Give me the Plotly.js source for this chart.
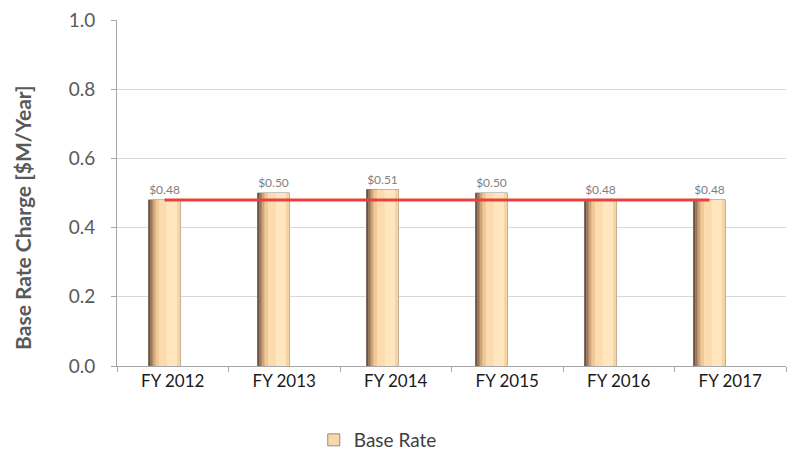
<!DOCTYPE html>
<html>
<head>
<meta charset="utf-8">
<script src="https://cdn.plot.ly/plotly-3.0.1.min.js"></script>
<style>html,body{margin:0;padding:0;background:#fff;}#chart{width:787px;height:455px;}</style>
</head>
<body>
<div id="chart"></div>
<script>
const categories = ["FY 2012", "FY 2013", "FY 2014", "FY 2015", "FY 2016", "FY 2017"];
const baseRate = [0.48, 0.50, 0.51, 0.50, 0.48, 0.48];
const barLabels = ["$0.48", "$0.50", "$0.51", "$0.50", "$0.48", "$0.48"];
const redLine = [0.48, 0.48, 0.48, 0.48, 0.48, 0.48];
const yTicks = [0.0, 0.2, 0.4, 0.6, 0.8, 1.0];
const yTickText = ["0.0", "0.2", "0.4", "0.6", "0.8", "1.0"];
const yTitle = "Base Rate Charge [$M/Year]";

const FONT = "Lato, 'Open Sans', sans-serif";
const barWidth = 0.294, barOffset = -0.147;

// shading strips to mimic the cylinder gradient
const strips = [
  {dx: 0.000, w: 0.020, c: "#6e5240"},
  {dx: 0.020, w: 0.020, c: "#9c7658"},
  {dx: 0.040, w: 0.026, c: "#cfa47a"},
  {dx: 0.066, w: 0.030, c: "#f0c896"},
  {dx: 0.096, w: 0.070, c: "#fcdcaf"},
  {dx: 0.166, w: 0.098, c: "#ffe6bf"},
  {dx: 0.264, w: 0.030, c: "#f6d3a3"}
];

const traces = [];
traces.push({
  type: "bar", x: categories, y: baseRate, name: "Base Rate", xaxis: "x2",
  offset: barOffset, width: barWidth,
  marker: {color: "#fad7a6", line: {color: "#8c8c8c", width: 1}},
  text: barLabels, textposition: "outside", cliponaxis: false,
  textfont: {family: FONT, size: 12, color: "#7f7f7f"},
  hoverinfo: "skip", showlegend: true
});
strips.forEach(s => {
  traces.push({
    type: "bar", x: categories, y: baseRate, xaxis: "x2",
    offset: barOffset + s.dx, width: s.w,
    marker: {color: s.c, line: {width: 0}},
    hoverinfo: "skip", showlegend: false
  });
});
traces.push({
  type: "scatter", mode: "lines",
  x: categories, y: redLine,
  xaxis: "x2", line: {color: "#e8423c", width: 3},
  hoverinfo: "skip", showlegend: false
});
// invisible trace to carry the category tick labels on the main x axis
traces.push({
  type: "scatter", mode: "markers", x: categories, y: baseRate,
  marker: {opacity: 0}, hoverinfo: "skip", showlegend: false
});

const layout = {
  width: 787, height: 455,
  margin: {l: 117, r: 1, t: 20, b: 89},
  paper_bgcolor: "#ffffff", plot_bgcolor: "#ffffff",
  barmode: "overlay",
  showlegend: true,
  legend: {
    orientation: "h", xref: "container", yref: "container",
    x: 0.48, xanchor: "center", y: 0.033, yanchor: "middle",
    font: {family: FONT, size: 19, color: "#404040"}
  },
  xaxis: {
    type: "category", range: [-0.5, 5.5],
    showgrid: false, zeroline: false,
    showline: true, linecolor: "#a6a6a6", linewidth: 1,
    ticks: "outside", tickson: "boundaries", ticklen: 5, tickcolor: "#a6a6a6",
    tickfont: {family: FONT, size: 17, color: "#1a1a1a"}
  },
  xaxis2: {
    type: "category", overlaying: "x", range: [-0.436, 5.702], visible: false
  },
  yaxis: {
    range: [0, 1], tickvals: yTicks, ticktext: yTickText,
    showgrid: true, gridcolor: "#d9d9d9", gridwidth: 1,
    zeroline: false, showline: true, linecolor: "#a6a6a6", linewidth: 1,
    ticks: "outside", ticklen: 5, tickcolor: "#a6a6a6", ticklabelstandoff: 12,
    tickfont: {family: FONT, size: 19, color: "#595959"}
  },
  annotations: [{
    text: "<b>" + yTitle + "</b>", textangle: -90, showarrow: false,
    xref: "paper", yref: "paper", x: -0.1405, y: 0.428,
    xanchor: "center", yanchor: "middle",
    font: {family: FONT, size: 21, color: "#595959"}
  }]
};

Plotly.newPlot("chart", traces, layout, {displayModeBar: false, staticPlot: true});
</script>
</body>
</html>
